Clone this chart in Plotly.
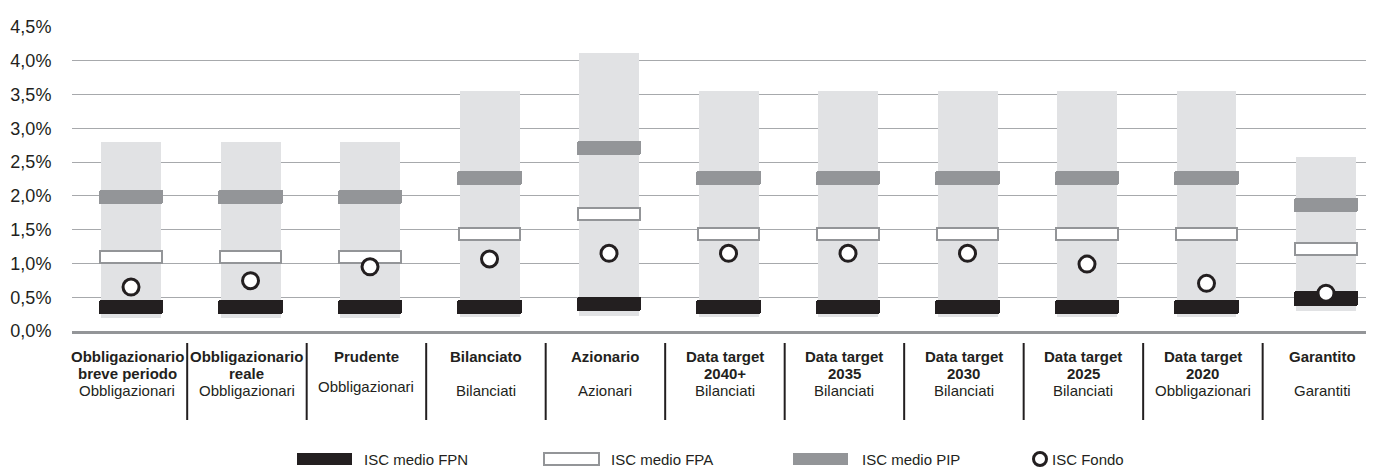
import plotly.graph_objects as go

# ---------------- data ----------------
categories = ["Obbligazionario<br>breve periodo", "Obbligazionario<br>reale", "Prudente",
              "Bilanciato", "Azionario", "Data target<br>2040+", "Data target<br>2035",
              "Data target<br>2030", "Data target<br>2025", "Data target<br>2020", "Garantito"]
subcategories = ["Obbligazionari", "Obbligazionari", "Obbligazionari", "Bilanciati", "Azionari",
                 "Bilanciati", "Bilanciati", "Bilanciati", "Bilanciati", "Obbligazionari", "Garantiti"]
range_min = [0.19, 0.19, 0.19, 0.20, 0.22, 0.20, 0.20, 0.20, 0.20, 0.20, 0.29]
range_max = [2.80, 2.80, 2.80, 3.55, 4.12, 3.55, 3.55, 3.55, 3.55, 3.55, 2.57]
isc_fpn = [0.36, 0.36, 0.36, 0.355, 0.40, 0.355, 0.355, 0.355, 0.355, 0.355, 0.48]
isc_fpa = [1.09, 1.09, 1.09, 1.43, 1.73, 1.43, 1.43, 1.43, 1.43, 1.43, 1.21]
isc_pip = [1.98, 1.98, 1.98, 2.27, 2.71, 2.27, 2.27, 2.27, 2.27, 2.27, 1.87]
isc_fondo = [0.65, 0.745, 0.95, 1.066, 1.15, 1.15, 1.15, 1.15, 0.99, 0.705, 0.56]
tick_vals = [0, 0.5, 1.0, 1.5, 2.0, 2.5, 3.0, 3.5, 4.0, 4.5]
tick_text = [("%.1f%%" % v).replace(".", ",") for v in tick_vals]
legend_labels = ["ISC medio FPN", "ISC medio FPA", "ISC medio PIP", "ISC Fondo"]

# ---------------- style ----------------
OFF = 8                      # default page margin of the html body
W, H = 1374 - OFF, 472 - OFF
ML, MR, MT, MB = 72 - OFF, 2, 18, 141
PW, PH = W - ML - MR, H - MT - MB
Y_TOP = PH / (304 / 4.5)     # so that 4.5 % lands 1 px below the plot top
C_LIGHT = "#e1e2e4"
C_PIP = "#939598"
C_FPN = "#231f20"
C_GRID = "#a7a9ac"
C_TEXT = "#231f20"
FONT = "Liberation Sans, Arial, sans-serif"
THICK = 0.21       # thickness of the marker bars (value units)
THICK_FPA = 0.18
MW = 0.538         # marker bar width (category units)


def py(p):  # page pixel y -> paper
    return (MT + PH - (p - OFF)) / PH


def px(p):  # page pixel x -> paper
    return ((p - OFF) - ML) / PW


x = list(range(len(categories)))

fig = go.Figure()
fig.add_trace(go.Bar(x=x, y=[b - a for a, b in zip(range_min, range_max)], base=range_min,
                     width=0.502, marker=dict(color=C_LIGHT, line=dict(width=0)),
                     showlegend=False, hoverinfo="skip"))
fig.add_trace(go.Bar(x=x, y=[THICK] * len(x), base=[v - THICK / 2 for v in isc_fpn],
                     width=MW, marker=dict(color=C_FPN, line=dict(width=0), cornerradius=2),
                     name=legend_labels[0], showlegend=False))
fig.add_trace(go.Bar(x=x, y=[THICK_FPA] * len(x), base=[v - THICK_FPA / 2 for v in isc_fpa],
                     width=MW - 0.02, marker=dict(color="white", line=dict(width=2, color=C_PIP)),
                     name=legend_labels[1], showlegend=False))
fig.add_trace(go.Bar(x=x, y=[THICK] * len(x), base=[v - THICK / 2 for v in isc_pip],
                     width=MW, marker=dict(color=C_PIP, line=dict(width=0), cornerradius=2),
                     name=legend_labels[2], showlegend=False))
fig.add_trace(go.Scatter(x=x, y=isc_fondo, mode="markers",
                         marker=dict(symbol="circle", size=16, color="white",
                                     line=dict(width=3, color=C_FPN)),
                         name=legend_labels[3], showlegend=False))

shapes = []
annotations = []

# table borders
for k in range(len(categories) + 1):
    shapes.append(dict(type="line", xref="x", yref="paper", x0=k - 0.53, x1=k - 0.53,
                       y0=py(343), y1=py(420), line=dict(color=C_TEXT, width=2), layer="above"))

# table texts
for k, (name, sub) in enumerate(zip(categories, subcategories)):
    lines = name.split("<br>")
    for i, ln in enumerate(lines):
        annotations.append(dict(x=k - 0.03, y=py(356 + 17 * i), xref="x", yref="paper",
                                text="<b>" + ln + "</b>", showarrow=False,
                                font=dict(family=FONT, size=15, color=C_TEXT),
                                xanchor="center", yanchor="middle"))
    sy = 386 if k == 2 else 390
    annotations.append(dict(x=k - 0.03, y=py(sy), xref="x", yref="paper",
                            text=sub, showarrow=False,
                            font=dict(family=FONT, size=15, color=C_TEXT),
                            xanchor="center", yanchor="middle"))

# legend (drawn manually)
LY = 459
leg_x = [297, 544, 793, 1033]
leg_tx = [362, 609, 860, 1050]
styles = [dict(fillcolor=C_FPN, line=dict(width=0)),
          dict(fillcolor="white", line=dict(width=2, color=C_PIP)),
          dict(fillcolor=C_PIP, line=dict(width=0))]
for i in range(3):
    shapes.append(dict(type="rect", xref="paper", yref="paper",
                       x0=px(leg_x[i]), x1=px(leg_x[i] + 55),
                       y0=py(LY + 6), y1=py(LY - 6), **styles[i]))
for i in range(4):
    annotations.append(dict(x=px(leg_tx[i]), y=py(LY), xref="paper", yref="paper",
                            text=legend_labels[i], showarrow=False, xanchor="left",
                            yanchor="middle", font=dict(family=FONT, size=15, color=C_TEXT)))
shapes.append(dict(type="circle", xref="paper", yref="paper", xsizemode="pixel",
                   ysizemode="pixel", xanchor=px(leg_x[3] + 7), yanchor=py(LY),
                   x0=-6.5, x1=6.5, y0=-6.5, y1=6.5, fillcolor="white",
                   line=dict(width=3, color=C_FPN)))

fig.update_layout(
    width=W, height=H,
    margin=dict(l=ML, r=MR, t=MT, b=MB),
    paper_bgcolor="white", plot_bgcolor="white",
    barmode="overlay", bargap=0,
    showlegend=False,
    shapes=shapes, annotations=annotations,
    font=dict(family=FONT, color=C_TEXT),
)
fig.update_xaxes(range=[-0.494, 10.385], showgrid=False, showticklabels=False, zeroline=False,
                 showline=True, linecolor=C_PIP, linewidth=2.5, ticks="", fixedrange=True)
fig.update_yaxes(range=[0, Y_TOP], tickvals=tick_vals, ticktext=tick_text,
                 showgrid=True, gridcolor=C_GRID, gridwidth=1.3, zeroline=False,
                 ticks="outside", ticklen=16, tickcolor="rgba(0,0,0,0)",
                 tickfont=dict(family=FONT, size=18, color=C_TEXT), fixedrange=True)

fig.write_html("out.html")
